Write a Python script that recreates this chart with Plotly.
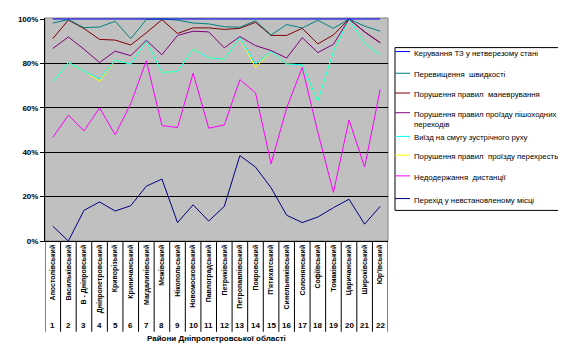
import numpy as np
import plotly.graph_objects as go

districts = ["Апостолівський", "Васильківський", "В - Дніпровський", "Дніпропетровський",
             "Криворізький", "Криничанський", "Магдалинівський", "Межівський",
             "Нікопольський", "Новомосковський", "Павлоградський", "Петриківський",
             "Петропавлівський", "Покровський", "П'ятихатський", "Синельниківський",
             "Солонянський", "Софіївський", "Томаківський", "Царичанський",
             "Широківський", "Юр'ївський"]
numbers = [str(i) for i in range(1, 23)]

# shares (%) per district, bottom of the stack first
perekhid      = [6.7, 0.0, 13.8, 17.6, 13.5, 15.9, 24.7, 27.9, 8.3, 16.3, 9.0, 15.6, 38.5, 33.3, 24.0, 11.6, 8.3, 10.8, 15.0, 18.8, 7.6, 15.6]
dystantsiia   = [40.0, 56.7, 35.8, 42.4, 34.4, 46.0, 56.5, 24.1, 42.8, 59.3, 41.8, 36.7, 34.2, 33.5, 10.8, 48.4, 69.9, 38.2, 6.9, 35.7, 25.7, 52.7]
perekhrestia  = [24.9, 23.7, 27.0, 12.0, 33.6, 17.8, 8.8, 24.0, 25.2, 10.8, 31.7, 29.6, 19.0, 11.3, 50.6, 19.7, 1.2, 14.0, 63.5, 45.5, 55.8, 15.5]
vyizd         = [0.0, 0.0, 0.0, 1.0, 0.0, 0.0, 0.0, 0.0, 0.0, 0.0, 0.0, 0.0, 0.0, 1.6, 0.0, 0.0, 0.0, 0.0, 0.0, 0.0, 0.0, 0.0]
pishokhidni   = [15.1, 11.5, 9.8, 7.4, 4.0, 3.8, 0.4, 7.9, 16.3, 8.1, 11.7, 5.1, 0.4, 8.3, 0.4, 2.7, 12.2, 21.9, 3.2, 0.0, 5.1, 5.5]
manevruvannia = [4.5, 7.6, 9.3, 10.4, 5.0, 4.8, 3.4, 15.8, 0.9, 1.5, 1.8, 8.3, 3.7, 10.5, 6.8, 10.2, 4.2, 3.9, 4.2, 0.0, 0.0, 0.0]
shvydkist     = [7.0, 0.2, 0.4, 5.6, 8.5, 2.8, 6.0, 0.3, 6.0, 2.2, 1.8, 1.2, 0.5, 0.7, 0.2, 4.9, 0.2, 10.6, 3.0, 0.0, 2.6, 5.2]
keruvannia    = [1.8, 0.3, 3.9, 3.6, 1.0, 8.9, 0.2, 0.0, 0.5, 1.8, 2.2, 3.5, 3.7, 0.8, 7.2, 2.5, 4.0, 0.6, 4.2, 0.0, 3.2, 5.5]

series = [
    ("Перехід у невстановленому місці", perekhid, "#000080"),
    ("Недодержання  дистанції", dystantsiia, "#FF00FF"),
    ("Порушення правил  проїзду перехресть", perekhrestia, "#FFFF00"),
    ("Виїзд на смугу зустрічного руху", vyizd, "#00FFFF"),
    ("Порушення правил проїзду пішоходних<br>переходів", pishokhidni, "#800080"),
    ("Порушення правил  маневрування", manevruvannia, "#800000"),
    ("Перевищення  швидкості", shvydkist, "#008080"),
    ("Керування ТЗ у нетверезому стані", keruvannia, "#0000FF"),
]

vals = np.array([s[1] for s in series], dtype=float)
pct = vals / vals.sum(axis=0) * 100.0
cum = np.cumsum(pct, axis=0)

# drawing order (purple over dark red where they coincide)
draw_order = [0, 1, 2, 3, 5, 4, 6, 7]

fig = go.Figure()
for idx in draw_order:
    name, _, color = series[idx]
    fig.add_trace(go.Scatter(
        x=districts, y=cum[idx], name=name.replace("<br>", " "), mode="lines",
        line=dict(color=color, width=1), showlegend=False,
        hoverinfo="skip",
    ))

FONT = "Liberation Sans, Arial, sans-serif"

# geometry of the plotting area (page is offset by the 8px body margin)
L, T, PW, PH = 37, 7, 343, 226
W, H = 558, 350
OX, OY = 8, 8  # body margin


def px_to_paper_x(px):
    return (px - OX - L) / PW


def px_to_paper_y(py):
    return (OY + T + PH - py) / PH


shapes = []
for i in range(len(districts) + 1):
    shapes.append(dict(type="line", xref="x", yref="paper",
                       x0=i - 0.5, x1=i - 0.5, y0=0, y1=px_to_paper_y(333),
                       line=dict(color="black", width=1)))
shapes.append(dict(type="rect", xref="paper", yref="paper", x0=0, x1=1, y0=0, y1=1,
                   line=dict(color="#808080", width=1), layer="below"))

annotations = []
for i, n in enumerate(numbers):
    annotations.append(dict(x=i, y=px_to_paper_y(327), xref="x", yref="paper", text=n,
                            showarrow=False, yanchor="middle",
                            font=dict(family=FONT, size=8, color="black", weight="bold")))
annotations.append(dict(x=0.5, y=px_to_paper_y(340), xref="paper", yref="paper",
                        text="Райони Дніпропетровської області", showarrow=False,
                        yanchor="middle",
                        font=dict(family=FONT, size=8, color="black", weight="bold")))

# legend box (drawn as shapes + text)
shapes.append(dict(type="rect", xref="paper", yref="paper",
                   x0=px_to_paper_x(395), x1=px_to_paper_x(562),
                   y0=px_to_paper_y(210), y1=px_to_paper_y(45),
                   line=dict(color="black", width=1), fillcolor="white", layer="below"))
legend_y = [49, 71, 91, 111, 135, 154, 175, 198]
legend_order = [7, 6, 5, 4, 3, 2, 1, 0]
for ly, idx in zip(legend_y, legend_order):
    name, _, color = series[idx]
    shapes.append(dict(type="line", xref="paper", yref="paper",
                       x0=px_to_paper_x(395), x1=px_to_paper_x(410),
                       y0=px_to_paper_y(ly), y1=px_to_paper_y(ly),
                       line=dict(color=color, width=1)))
    annotations.append(dict(x=px_to_paper_x(412), y=px_to_paper_y(ly - 5),
                            xref="paper", yref="paper", text=name, showarrow=False,
                            xanchor="left", yanchor="top", align="left",
                            font=dict(family=FONT, size=7.8, color="black")))

fig.update_layout(
    width=W, height=H,
    margin=dict(l=L, r=W - L - PW, t=T, b=H - T - PH, pad=0),
    paper_bgcolor="white", plot_bgcolor="#C0C0C0",
    font=dict(family=FONT, size=8, color="black"),
    shapes=shapes, annotations=annotations,
    showlegend=False,
)
fig.update_xaxes(type="category", range=[-0.5, 21.5], tickangle=-90,
                 showgrid=False, showline=True, linecolor="black", linewidth=1,
                 ticks="", tickfont=dict(family=FONT, size=7, color="black", weight="bold"))
fig.update_yaxes(range=[0, 100.45], tickvals=[0, 20, 40, 60, 80, 100],
                 ticktext=["0%", "20%", "40%", "60%", "80%", "100%"],
                 showgrid=True, gridcolor="black", gridwidth=1, zeroline=False,
                 showline=True, linecolor="black", linewidth=1,
                 ticks="outside", ticklen=4, tickcolor="black",
                 tickfont=dict(family=FONT, size=8, color="black", weight="bold"))

fig.write_html("out.html")
